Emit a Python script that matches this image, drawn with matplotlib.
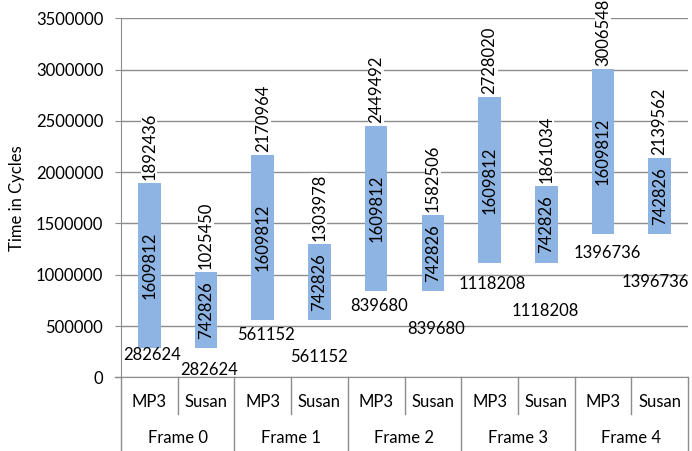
import matplotlib
matplotlib.use("Agg")
import matplotlib.pyplot as plt
import numpy as np

plt.rcParams["font.family"] = ["Lato", "DejaVu Sans"]

frames = ["Frame 0", "Frame 1", "Frame 2", "Frame 3", "Frame 4"]
apps = ["MP3", "Susan"]
start_mp3 = [282624, 561152, 839680, 1118208, 1396736]
start_susan = [282624, 561152, 839680, 1118208, 1396736]
dur_mp3 = [1609812, 1609812, 1609812, 1609812, 1609812]
dur_susan = [742826, 742826, 742826, 742826, 742826]

# where the start labels sit below each bar (pixels), as placed in the original
drop_mp3 = [7, 15, 15, 21, 19]
drop_susan = [22, 37, 38, 48, 48]
shift_mp3 = [3, 3, 3, 3, 4]
shift_susan = [3, 0, 3, -1, -4]

BLUE = "#8db4e2"
GRID = "#8c8c8c"
FS = 12.0

starts, durs, drops, shifts = [], [], [], []
for i in range(len(frames)):
    starts += [start_mp3[i], start_susan[i]]
    durs += [dur_mp3[i], dur_susan[i]]
    drops += [drop_mp3[i], drop_susan[i]]
    shifts += [shift_mp3[i], shift_susan[i]]
starts = np.array(starts)
durs = np.array(durs)
tops = starts + durs
x = np.arange(len(starts))

fig = plt.figure(figsize=(6.92, 4.51), dpi=100)
ax = fig.add_axes([121 / 692, 1 - 377.3 / 451, 567 / 692, 359 / 451])

ax.bar(x, durs, bottom=starts, width=0.4, color=BLUE, zorder=2)
ax.set_xlim(-0.5, len(x) - 0.5)
ax.set_ylim(0, 3500000)
ax.set_yticks(np.arange(0, 3500001, 500000))
ax.yaxis.set_major_formatter(matplotlib.ticker.FuncFormatter(lambda v, p: f"{int(v)}"))
ax.grid(True, axis="y", color=GRID, lw=1.0, zorder=0)
ax.set_xticks([])
for s in ["top", "right"]:
    ax.spines[s].set_visible(False)
for s in ["left", "bottom"]:
    ax.spines[s].set_color(GRID)
ax.tick_params(axis="y", length=4.3, color=GRID, pad=8.5, labelsize=FS)
ax.set_ylabel("Time in Cycles", fontsize=FS, labelpad=8)

for xi, s, d, t, dr, sh in zip(x, starts, durs, tops, drops, shifts):
    ax.annotate(f"{t}", (xi, t), xytext=(0, 3), textcoords="offset pixels",
                rotation=90, ha="center", va="bottom", fontsize=FS, zorder=3,
                bbox=dict(facecolor="white", edgecolor="none", pad=0),
                annotation_clip=False)
    ax.text(xi, s + d / 2, f"{d}", rotation=90, ha="center", va="center",
            fontsize=FS, zorder=3)
    ax.annotate(f"{s}", (xi, s), xytext=(sh, -dr), textcoords="offset pixels",
                ha="center", va="center", fontsize=FS, zorder=3,
                annotation_clip=False)

# two-level category axis below the plot
tr = ax.get_xaxis_transform()
short = -(414 - 377.3) / 359
deep = -(451 - 377.3) / 359
for b in np.arange(-0.5, len(x), 1.0):
    k = int(b + 0.5)
    y_end = deep if k % 2 == 0 else short
    ax.plot([b, b], [0, y_end], color=GRID, lw=1.0, transform=tr, clip_on=False)
ax.plot([-0.5 - 0.11, -0.5], [0, 0], color=GRID, lw=1.0, transform=tr, clip_on=False)
for i in range(len(x)):
    ax.text(i, -0.068, apps[i % 2], transform=tr, ha="center", va="center", fontsize=FS)
for j, fr in enumerate(frames):
    ax.text(2 * j + 0.5, -0.17, fr, transform=tr, ha="center", va="center", fontsize=FS)

fig.savefig("out.png", dpi=100)
